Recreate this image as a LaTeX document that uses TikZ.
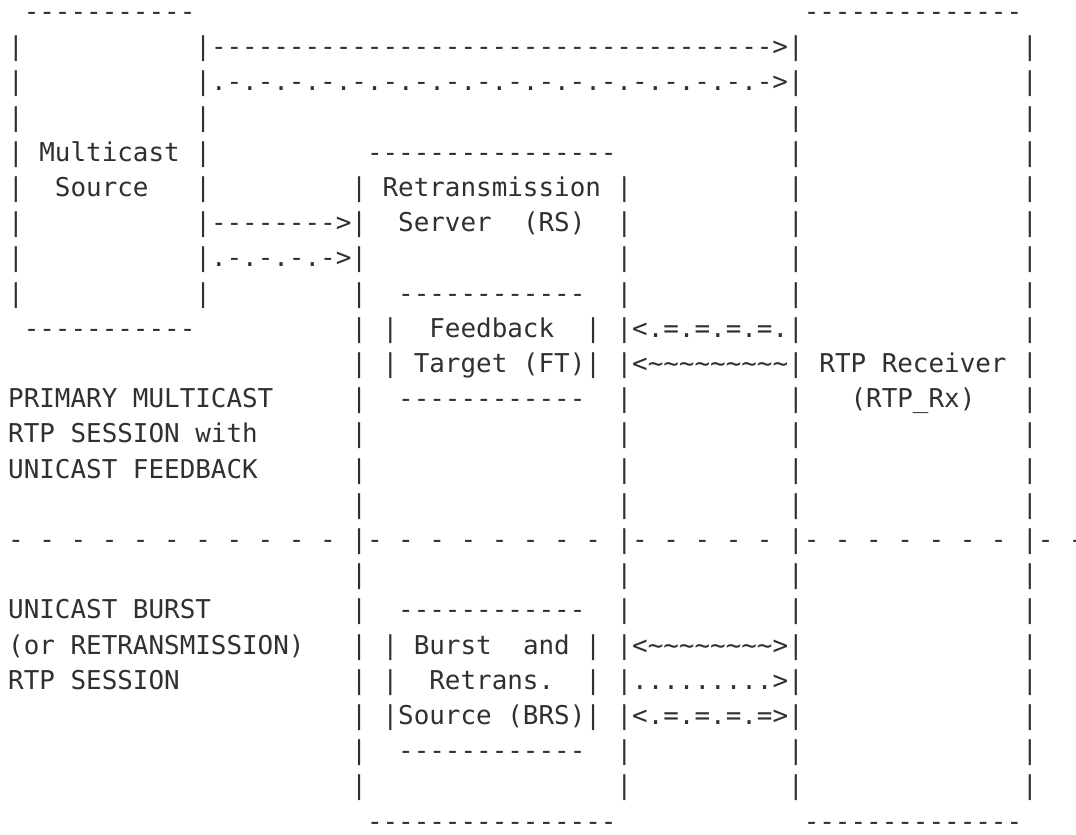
\documentclass[tikz,border=0pt]{standalone}
\usepackage{fontspec}
\setmonofont{DejaVu Sans Mono}
\usepackage{tikz}

\definecolor{ink}{HTML}{303030}
\newcommand{\tld}{\textasciitilde}
\ExplSyntaxOn
\newcommand{\rpt}[2]{\prg_replicate:nn{#1}{#2}}
\ExplSyntaxOff

\begin{document}
\begin{tikzpicture}[x=11.7pt, y=-26.4pt,
    asc/.style={anchor=base west, inner sep=0pt, outer sep=0pt, text=ink,
        font=\fontsize{19.43pt}{26.4pt}\selectfont\ttfamily\frenchspacing}]
    \useasboundingbox (-0.5256,-0.585) rectangle (68.449,23.136);
    \fill[white] (-0.5256,-0.585) rectangle (68.449,23.136);

    %Box sides
    \foreach \r in {1,...,8} {
        \node[asc] at (0, \r) (msl\r) {|};
        \node[asc] at (12, \r) (msr\r) {|};
    }
    \foreach \r in {5,...,22} {
        \node[asc] at (22, \r) (rsl\r) {|};
        \node[asc] at (39, \r) (rsr\r) {|};
    }
    \foreach \r in {1,...,22} {
        \node[asc] at (50, \r) (rxl\r) {|};
        \node[asc] at (65, \r) (rxr\r) {|};
    }
    \foreach \r in {9,10,18,19,20} {
        \node[asc] at (24, \r) (inl\r) {|};
        \node[asc] at (37, \r) (inr\r) {|};
    }

    %Multicast source
    \node[asc] at (1, 0) (mstop) {\rpt{11}{-}};
    \node[asc] at (1, 9) (msbot) {\rpt{11}{-}};
    \node[asc] at (2, 4) (ms) {Multicast};
    \node[asc] at (3, 5) (src) {Source};

    %Retransmission server
    \node[asc] at (23, 4) (rstop) {\rpt{16}{-}};
    \node[asc] at (23, 23) (rsbot) {\rpt{16}{-}};
    \node[asc] at (24, 5) (rs) {Retransmission};
    \node[asc] at (25, 6) (srv) {Server};
    \node[asc] at (33, 6) (rsid) {(RS)};

    %Feedback target
    \node[asc] at (25, 8) (fttop) {\rpt{12}{-}};
    \node[asc] at (25, 11) (ftbot) {\rpt{12}{-}};
    \node[asc] at (27, 9) (fb) {Feedback};
    \node[asc] at (26, 10) (ft) {Target (FT)};

    %Burst and retransmission source
    \node[asc] at (25, 17) (brstop) {\rpt{12}{-}};
    \node[asc] at (25, 21) (brsbot) {\rpt{12}{-}};
    \node[asc] at (26, 18) (burst) {Burst};
    \node[asc] at (33, 18) (and) {and};
    \node[asc] at (27, 19) (retr) {Retrans.};
    \node[asc] at (25, 20) (brs) {Source (BRS)};

    %RTP receiver
    \node[asc] at (51, 0) (rxtop) {\rpt{14}{-}};
    \node[asc] at (51, 23) (rxbot) {\rpt{14}{-}};
    \node[asc] at (52, 10) (rx) {RTP Receiver};
    \node[asc] at (54, 11) (rxid) {(RTP\_Rx)};

    %Arrows
    \node[asc] at (13, 1) (mcrx) {\rpt{36}{-}>};
    \node[asc] at (13, 2) (mcrx2) {\rpt{18}{.-}>};
    \node[asc] at (13, 6) (mcrs) {\rpt{8}{-}>};
    \node[asc] at (13, 7) (mcrs2) {\rpt{4}{.-}>};
    \node[asc] at (40, 9) (fbrx) {<\rpt{4}{.=}.};
    \node[asc] at (40, 10) (ftrx) {<\rpt{9}{\tld}};
    \node[asc] at (40, 18) (brsrx) {<\rpt{8}{\tld}>};
    \node[asc] at (40, 19) (brsrx2) {\rpt{9}{.}>};
    \node[asc] at (40, 20) (brsrx3) {<\rpt{4}{.=}>};

    %Session labels
    \node[asc] at (0, 11) (pri1) {PRIMARY MULTICAST};
    \node[asc] at (0, 12) (pri2) {RTP SESSION with};
    \node[asc] at (0, 13) (pri3) {UNICAST FEEDBACK};
    \node[asc] at (0, 17) (uni1) {UNICAST BURST};
    \node[asc] at (0, 18) (uni2) {(or RETRANSMISSION)};
    \node[asc] at (0, 19) (uni3) {RTP SESSION};

    %Separator
    \node[asc] at (0, 15) (sep1) {\rpt{10}{- }-};
    \node[asc] at (23, 15) (sep2) {\rpt{7}{- }-};
    \node[asc] at (40, 15) (sep3) {\rpt{4}{- }-};
    \node[asc] at (51, 15) (sep4) {\rpt{6}{- }-};
    \node[asc] at (66, 15) (sep5) {- -};

\end{tikzpicture}
\end{document}
